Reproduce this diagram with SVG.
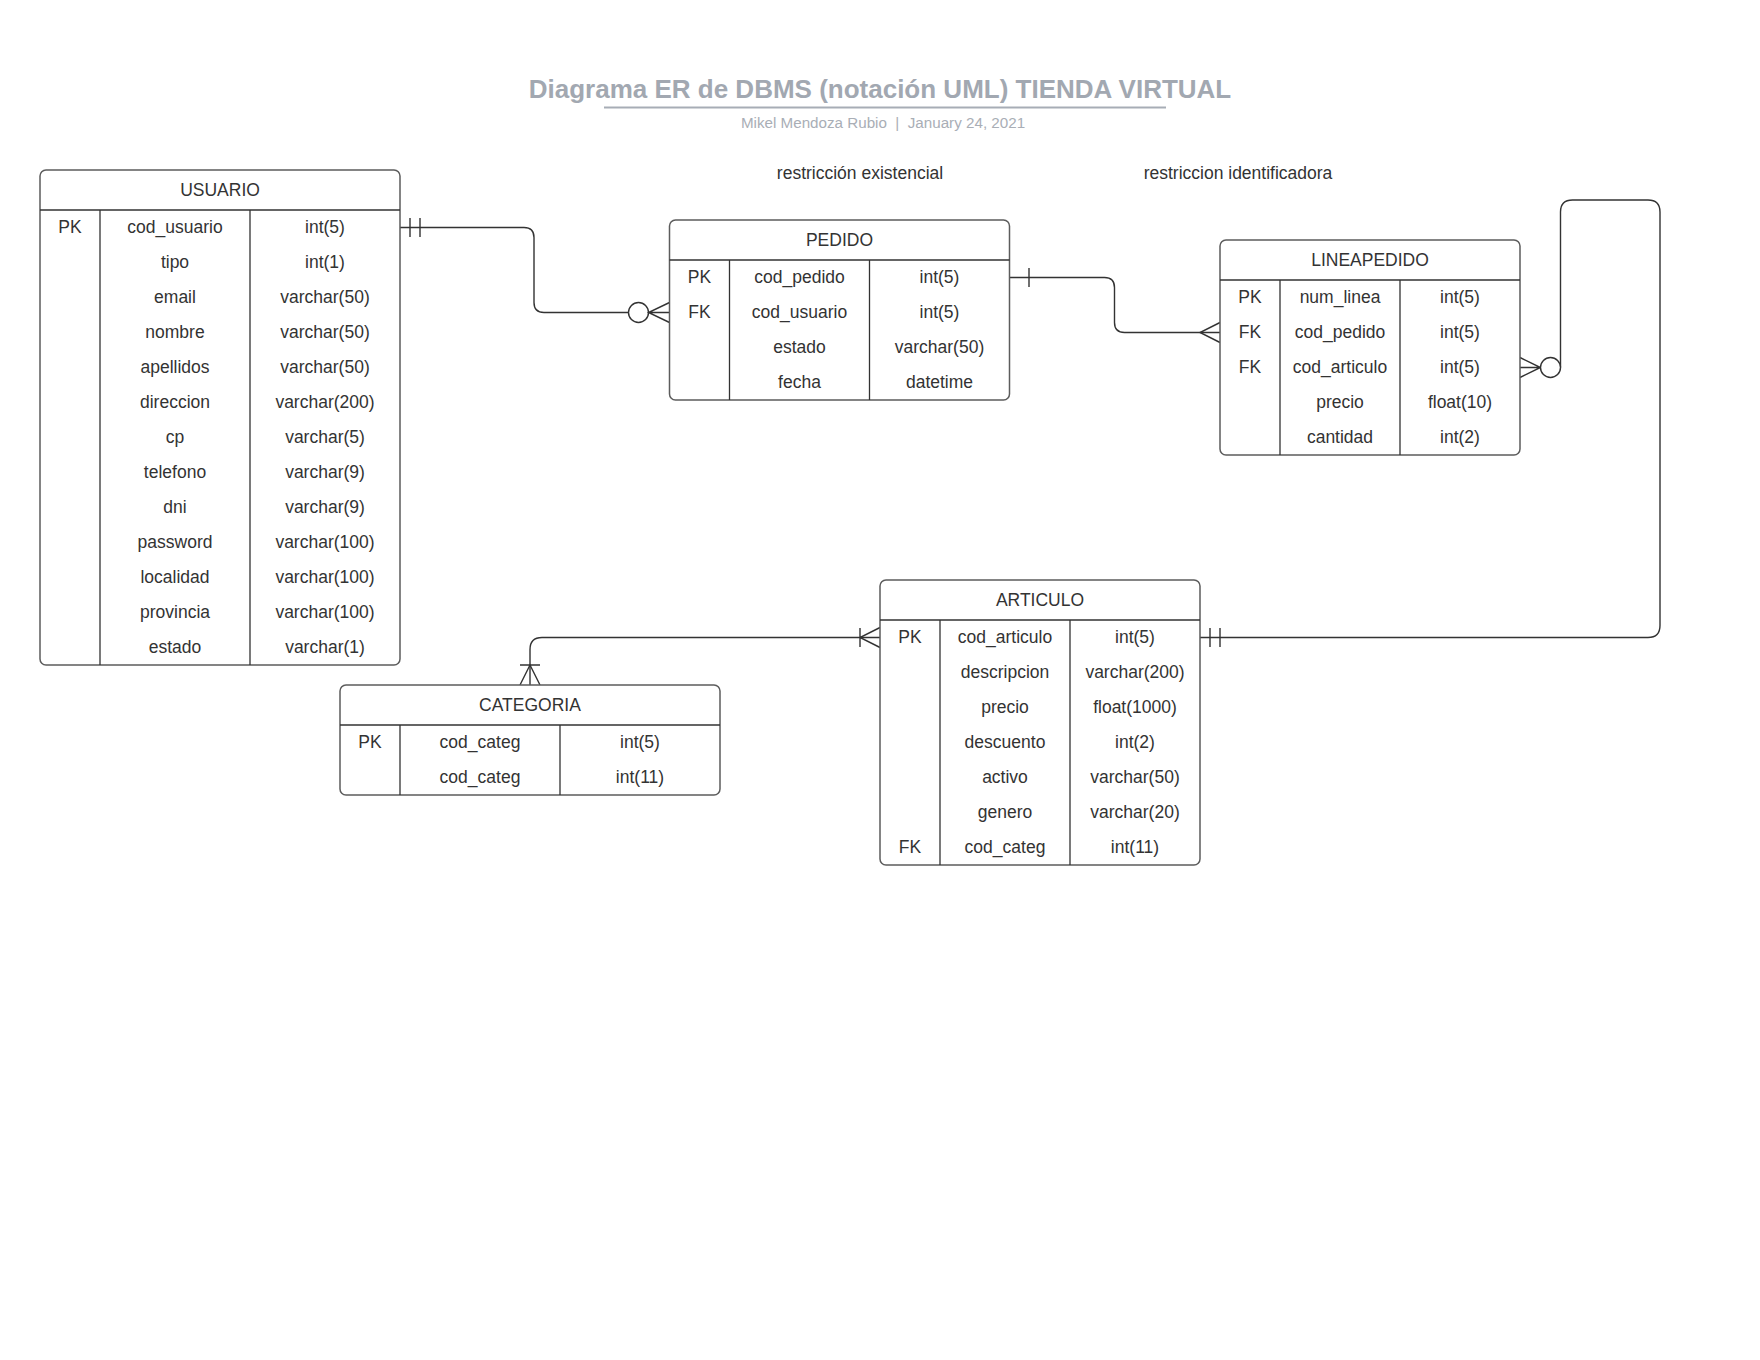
<svg xmlns="http://www.w3.org/2000/svg" width="1760" height="1360" viewBox="0 0 1760 1360">
  <style>
    text { font-family: "Liberation Sans", Arial, sans-serif; fill: #333333; }
    .title { font-size: 26px; font-weight: bold; fill: #a2a8b1; text-anchor: middle; }
    .subtitle { font-size: 15.2px; fill: #a9aeb6; text-anchor: middle; white-space: pre; }
    .note { font-size: 17.5px; text-anchor: middle; }
    .cell { font-size: 17.5px; text-anchor: middle; }
    .box { fill: #ffffff; stroke: #5c5c5c; stroke-width: 1.5; }
    .div { stroke: #333333; stroke-width: 1.3; fill: none; }
    .link { fill: none; stroke: #333333; stroke-width: 1.4; }
    .end { fill: #ffffff; stroke: #333333; stroke-width: 1.4; }
  </style>

  <!-- heading -->
  <g id="heading">
    <text class="title" x="880" y="97.5">Diagrama ER de DBMS (notación UML) TIENDA VIRTUAL</text>
    <line x1="604" y1="107.5" x2="1166" y2="107.5" stroke="#a7adb6" stroke-width="2"/>
    <text class="subtitle" x="883" y="128" xml:space="preserve">Mikel Mendoza Rubio  |  January 24, 2021</text>
  </g>

  <g id="labels">
    <text class="note" x="860" y="178.5">restricción existencial</text>
    <text class="note" x="1238" y="178.5">restriccion identificadora</text>
  </g>

  <!-- relationships -->
  <g id="connectors">
    <!-- USUARIO 1 : N PEDIDO -->
    <path class="link" d="M400,227.5 H524 Q534,227.5 534,237.5 V302.5 Q534,312.5 544,312.5 H628.5"/>
    <path class="link" d="M410,218 V237 M420,218 V237"/>
    <circle class="end" cx="638.5" cy="312.5" r="10"/>
    <path class="link" d="M669.5,302.5 L648.5,312.5 L669.5,322.5 M648.5,312.5 H669.5"/>

    <!-- PEDIDO 1 : N LINEAPEDIDO -->
    <path class="link" d="M1009.5,277.5 H1104.5 Q1114.5,277.5 1114.5,287.5 V322.5 Q1114.5,332.5 1124.5,332.5 H1220"/>
    <path class="link" d="M1029,268 V287"/>
    <path class="link" d="M1220,322.5 L1200,332.5 L1220,342.5"/>

    <!-- ARTICULO 1 : N LINEAPEDIDO -->
    <path class="link" d="M1200,637.5 H1648 Q1660,637.5 1660,625.5 V212 Q1660,200 1648,200 H1572.5 Q1560.5,200 1560.5,212 V367.5"/>
    <path class="link" d="M1210,628 V647 M1220,628 V647"/>
    <path class="link" d="M1520,357.5 L1540.5,367.5 L1520,377.5 M1520,367.5 H1540.5"/>
    <circle class="end" cx="1550.5" cy="367.5" r="10"/>

    <!-- CATEGORIA 1 : N ARTICULO -->
    <path class="link" d="M880,637.5 H542 Q530,637.5 530,649.5 V685"/>
    <path class="link" d="M880,627.5 L860,637.5 L880,647.5 M860,628 V647"/>
    <path class="link" d="M520,685 L530,665 L540,685 M520,665 H540"/>
  </g>

  <!-- USUARIO -->
  <g id="usuario">
    <rect class="box" x="40" y="170" width="360" height="495" rx="6"/>
    <path class="div" d="M40,210 H400 M100,210 V665 M250,210 V665"/>
    <text class="cell" x="220" y="195.5">USUARIO</text>
    <text class="cell" x="70" y="233">PK</text>
    <text class="cell" x="175" y="233">cod_usuario</text>
    <text class="cell" x="325" y="233">int(5)</text>
    <text class="cell" x="175" y="268">tipo</text>
    <text class="cell" x="325" y="268">int(1)</text>
    <text class="cell" x="175" y="303">email</text>
    <text class="cell" x="325" y="303">varchar(50)</text>
    <text class="cell" x="175" y="338">nombre</text>
    <text class="cell" x="325" y="338">varchar(50)</text>
    <text class="cell" x="175" y="373">apellidos</text>
    <text class="cell" x="325" y="373">varchar(50)</text>
    <text class="cell" x="175" y="408">direccion</text>
    <text class="cell" x="325" y="408">varchar(200)</text>
    <text class="cell" x="175" y="443">cp</text>
    <text class="cell" x="325" y="443">varchar(5)</text>
    <text class="cell" x="175" y="478">telefono</text>
    <text class="cell" x="325" y="478">varchar(9)</text>
    <text class="cell" x="175" y="513">dni</text>
    <text class="cell" x="325" y="513">varchar(9)</text>
    <text class="cell" x="175" y="548">password</text>
    <text class="cell" x="325" y="548">varchar(100)</text>
    <text class="cell" x="175" y="583">localidad</text>
    <text class="cell" x="325" y="583">varchar(100)</text>
    <text class="cell" x="175" y="618">provincia</text>
    <text class="cell" x="325" y="618">varchar(100)</text>
    <text class="cell" x="175" y="653">estado</text>
    <text class="cell" x="325" y="653">varchar(1)</text>
  </g>

  <!-- PEDIDO -->
  <g id="pedido">
    <rect class="box" x="669.5" y="220" width="340" height="180" rx="6"/>
    <path class="div" d="M669.5,260 H1009.5 M729.5,260 V400 M869.5,260 V400"/>
    <text class="cell" x="839.5" y="245.5">PEDIDO</text>
    <text class="cell" x="699.5" y="283">PK</text>
    <text class="cell" x="799.5" y="283">cod_pedido</text>
    <text class="cell" x="939.5" y="283">int(5)</text>
    <text class="cell" x="699.5" y="318">FK</text>
    <text class="cell" x="799.5" y="318">cod_usuario</text>
    <text class="cell" x="939.5" y="318">int(5)</text>
    <text class="cell" x="799.5" y="353">estado</text>
    <text class="cell" x="939.5" y="353">varchar(50)</text>
    <text class="cell" x="799.5" y="388">fecha</text>
    <text class="cell" x="939.5" y="388">datetime</text>
  </g>

  <!-- LINEAPEDIDO -->
  <g id="lineapedido">
    <rect class="box" x="1220" y="240" width="300" height="215" rx="6"/>
    <path class="div" d="M1220,280 H1520 M1280,280 V455 M1400,280 V455"/>
    <text class="cell" x="1370" y="265.5">LINEAPEDIDO</text>
    <text class="cell" x="1250" y="303">PK</text>
    <text class="cell" x="1340" y="303">num_linea</text>
    <text class="cell" x="1460" y="303">int(5)</text>
    <text class="cell" x="1250" y="338">FK</text>
    <text class="cell" x="1340" y="338">cod_pedido</text>
    <text class="cell" x="1460" y="338">int(5)</text>
    <text class="cell" x="1250" y="373">FK</text>
    <text class="cell" x="1340" y="373">cod_articulo</text>
    <text class="cell" x="1460" y="373">int(5)</text>
    <text class="cell" x="1340" y="408">precio</text>
    <text class="cell" x="1460" y="408">float(10)</text>
    <text class="cell" x="1340" y="443">cantidad</text>
    <text class="cell" x="1460" y="443">int(2)</text>
  </g>

  <!-- ARTICULO -->
  <g id="articulo">
    <rect class="box" x="880" y="580" width="320" height="285" rx="6"/>
    <path class="div" d="M880,620 H1200 M940,620 V865 M1070,620 V865"/>
    <text class="cell" x="1040" y="605.5">ARTICULO</text>
    <text class="cell" x="910" y="643">PK</text>
    <text class="cell" x="1005" y="643">cod_articulo</text>
    <text class="cell" x="1135" y="643">int(5)</text>
    <text class="cell" x="1005" y="678">descripcion</text>
    <text class="cell" x="1135" y="678">varchar(200)</text>
    <text class="cell" x="1005" y="713">precio</text>
    <text class="cell" x="1135" y="713">float(1000)</text>
    <text class="cell" x="1005" y="748">descuento</text>
    <text class="cell" x="1135" y="748">int(2)</text>
    <text class="cell" x="1005" y="783">activo</text>
    <text class="cell" x="1135" y="783">varchar(50)</text>
    <text class="cell" x="1005" y="818">genero</text>
    <text class="cell" x="1135" y="818">varchar(20)</text>
    <text class="cell" x="910" y="853">FK</text>
    <text class="cell" x="1005" y="853">cod_categ</text>
    <text class="cell" x="1135" y="853">int(11)</text>
  </g>

  <!-- CATEGORIA -->
  <g id="categoria">
    <rect class="box" x="340" y="685" width="380" height="110" rx="6"/>
    <path class="div" d="M340,725 H720 M400,725 V795 M560,725 V795"/>
    <text class="cell" x="530" y="710.5">CATEGORIA</text>
    <text class="cell" x="370" y="748">PK</text>
    <text class="cell" x="480" y="748">cod_categ</text>
    <text class="cell" x="640" y="748">int(5)</text>
    <text class="cell" x="480" y="783">cod_categ</text>
    <text class="cell" x="640" y="783">int(11)</text>
  </g>
</svg>
